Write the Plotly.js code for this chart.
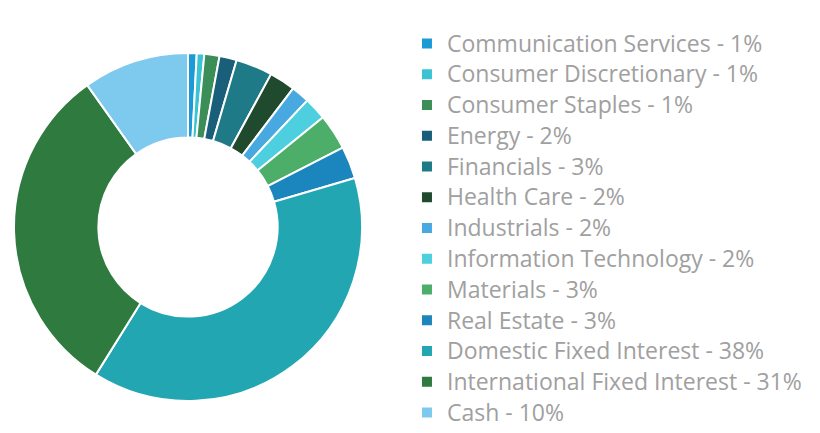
<!DOCTYPE html>
<html>
<head>
<meta charset="utf-8">
<script src="https://cdn.plot.ly/plotly-3.0.1.min.js"></script>
<style>html,body{margin:0;padding:0;background:#fff;}#chart{width:820px;height:433px;}</style>
</head>
<body>
<div id="chart"></div>
<script>
const sectors = ["Communication Services","Consumer Discretionary","Consumer Staples","Energy","Financials","Health Care","Industrials","Information Technology","Materials","Real Estate","Domestic Fixed Interest","International Fixed Interest","Cash"];
const weights = [0.8, 0.7, 1.4, 1.6, 3.4, 2.4, 1.7, 2.1, 3.3, 3.0, 38.3, 31.2, 9.8];
const shownPct = [1, 1, 1, 2, 3, 2, 2, 2, 3, 3, 38, 31, 10];
const colors = ["#1b9ad6","#3cc3d3","#3b8e57","#1a5f7a","#1d7a86","#1f4a2e","#47a9df","#4ecfe0","#4cae68","#1b85bd","#22a6b2","#2f7a3f","#7ec9ee"];

const legendLabels = sectors.map((s, i) =>
  '<span style="font-size:23px">' + s + ' - ' + shownPct[i] + '%</span>');

const data = [{
  type: 'pie',
  labels: legendLabels,
  values: weights,
  hole: 0.515,
  sort: false,
  direction: 'clockwise',
  rotation: 0,
  textinfo: 'none',
  marker: {colors: colors, line: {color: '#ffffff', width: 2}},
  domain: {x: [0.01707, 0.44146], y: [0.0739, 0.8776]}
}];

const layout = {
  width: 820, height: 433,
  margin: {l: 0, r: 0, t: 0, b: 0},
  paper_bgcolor: '#ffffff',
  showlegend: true,
  legend: {
    x: 0.4963, xanchor: 'left',
    y: 0.945, yanchor: 'top',
    font: {family: 'Open Sans', size: 21.35, color: '#a0a0a0'},
    bgcolor: 'rgba(0,0,0,0)',
    itemclick: false
  }
};

Plotly.newPlot('chart', data, layout, {displayModeBar: false, staticPlot: true});
</script>
</body>
</html>
